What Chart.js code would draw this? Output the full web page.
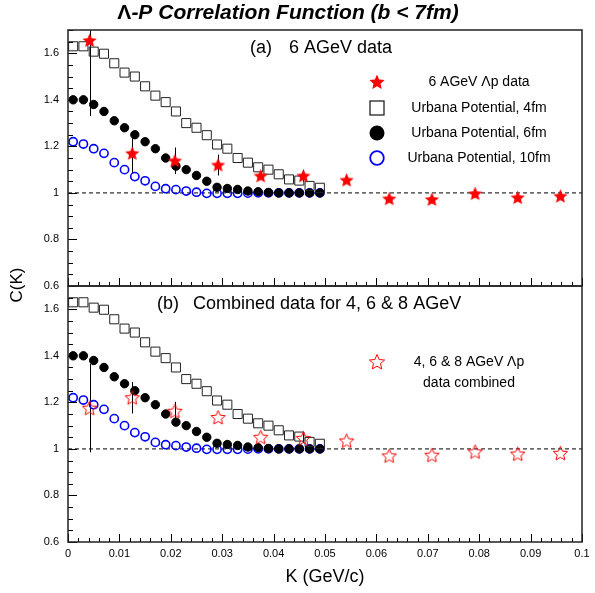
<!DOCTYPE html>
<html lang="en">
<head>
<meta charset="UTF-8">
<title>Lambda-P Correlation Function</title>
<script src="https://cdn.jsdelivr.net/npm/chart.js"></script>
<style>
    html, body { margin: 0; padding: 0; background: #fff; }
    #grafico { display: block; }
</style>
</head>
<body>
<canvas id="grafico" width="595" height="593"></canvas>
<script>
    // K values (GeV/c) of the model curves
    const kModel = [0.001, 0.003, 0.005, 0.007, 0.009, 0.011, 0.013, 0.015, 0.017, 0.019,
                    0.021, 0.023, 0.025, 0.027, 0.029, 0.031, 0.033, 0.035, 0.037, 0.039,
                    0.041, 0.043, 0.045, 0.047, 0.049];
    const urbana4fm = [1.630, 1.630, 1.607, 1.598, 1.557, 1.517, 1.500, 1.458, 1.418, 1.390,
                       1.350, 1.300, 1.280, 1.248, 1.208, 1.190, 1.150, 1.130, 1.110, 1.100,
                       1.080, 1.058, 1.053, 1.030, 1.022];
    const urbana6fm = [1.400, 1.400, 1.380, 1.350, 1.310, 1.280, 1.250, 1.220, 1.190, 1.150,
                       1.115, 1.100, 1.075, 1.050, 1.024, 1.019, 1.015, 1.008, 1.005, 1.002,
                       1.000, 1.000, 1.000, 1.000, 1.000];
    const urbana10fm = [1.220, 1.210, 1.190, 1.170, 1.130, 1.100, 1.070, 1.052, 1.028, 1.018,
                        1.014, 1.008, 1.003, 0.998, 0.998, 0.998, 0.998, 0.999, 1.000, 1.000,
                        1.000, 1.000, 1.000, 1.000, 1.000];

    // measured Lambda-p points
    const kData = [0.0042, 0.0125, 0.0208, 0.0292, 0.0375, 0.0458,
                   0.0542, 0.0625, 0.0708, 0.0792, 0.0875, 0.0958];
    const c6AGeV = [1.655, 1.170, 1.138, 1.120, 1.073, 1.073,
                    1.055, 0.975, 0.972, 0.997, 0.980, 0.986];
    const err6AGeV = [0.325, 0.086, 0.057, 0.045, 0.015, 0.025, 0, 0, 0, 0, 0, 0];
    const cCombined = [1.175, 1.220, 1.162, 1.135, 1.050, 1.045,
                       1.034, 0.970, 0.973, 0.987, 0.978, 0.981];
    const errCombined = [0.19, 0.068, 0.04, 0, 0, 0.02, 0, 0, 0, 0, 0, 0];

    const xTickValues = [0, 0.01, 0.02, 0.03, 0.04, 0.05, 0.06, 0.07, 0.08, 0.09, 0.1];
    const yTickValues = [0.6, 0.8, 1, 1.2, 1.4, 1.6];

    const FONT = 'Liberation Sans, Arial, Helvetica, sans-serif';

    function pts(xs, ys) {
        return xs.map((x, i) => ({ x: x, y: ys[i] }));
    }

    // five pointed star, filled or hollow
    function starImage(filled, size) {
        const c = document.createElement('canvas');
        c.width = c.height = size;
        const g = c.getContext('2d');
        const R = size / 2 - 1, r = R * 0.46;
        g.beginPath();
        for (let i = 0; i < 10; i++) {
            const a = -Math.PI / 2 + i * Math.PI / 5;
            const rad = i % 2 ? r : R;
            g.lineTo(size / 2 + rad * Math.cos(a), size / 2 + 0.5 + rad * Math.sin(a));
        }
        g.closePath();
        if (filled) {
            g.fillStyle = '#ff0000';
            g.fill();
        } else {
            g.strokeStyle = '#ff0000';
            g.lineWidth = 1;
            g.stroke();
        }
        return c;
    }

    const estrelaCheia = starImage(true, 17);
    const estrelaVazia = starImage(false, 17);
    const estrelaCheiaLeg = starImage(true, 18);
    const estrelaVaziaLeg = starImage(false, 18);

    function modelSets(yId) {
        return [
            {
                label: 'Urbana Potential, 4fm', data: pts(kModel, urbana4fm), yAxisID: yId, order: 1,
                pointStyle: 'rect', pointRadius: 6.4, borderWidth: 1,
                borderColor: '#222', backgroundColor: 'rgba(0,0,0,0)'
            },
            {
                label: 'Urbana Potential, 6fm', data: pts(kModel, urbana6fm), yAxisID: yId, order: 2,
                pointStyle: 'circle', pointRadius: 4.2, borderWidth: 1,
                borderColor: '#000', backgroundColor: '#000'
            },
            {
                label: 'Urbana Potential, 10fm', data: pts(kModel, urbana10fm), yAxisID: yId, order: 3,
                pointStyle: 'circle', pointRadius: 4.1, borderWidth: 1.6,
                borderColor: '#0000ff', backgroundColor: 'rgba(0,0,0,0)'
            },
            {
                label: 'C = 1', data: [{ x: 0, y: 1 }, { x: 0.1, y: 1 }], yAxisID: yId, order: 4,
                showLine: true, pointRadius: 0, borderWidth: 1, borderColor: '#000', borderDash: [4, 3]
            }
        ];
    }

    const datasets = [
        {
            label: '6 AGeV \u039Bp data', data: pts(kData, c6AGeV), yAxisID: 'yTop', order: 0,
            pointStyle: estrelaCheia, pointRadius: 8
        },
        ...modelSets('yTop'),
        {
            label: '4, 6 & 8 AGeV \u039Bp data combined', data: pts(kData, cCombined), yAxisID: 'yBot', order: 0,
            pointStyle: estrelaVazia, pointRadius: 8
        },
        ...modelSets('yBot')
    ];

    function drawErrors(chart, yId, vals, errs) {
        const ctx = chart.ctx, x = chart.scales.x, y = chart.scales[yId];
        ctx.save();
        ctx.beginPath();
        ctx.rect(x.left, y.top, x.right - x.left, y.bottom - y.top);
        ctx.clip();
        ctx.strokeStyle = '#000';
        ctx.lineWidth = 1;
        kData.forEach((k, i) => {
            if (!errs[i]) return;
            const px = Math.round(x.getPixelForValue(k)) + 0.5;
            ctx.beginPath();
            ctx.moveTo(px, y.getPixelForValue(vals[i] + errs[i]));
            ctx.lineTo(px, y.getPixelForValue(vals[i] - errs[i]));
            ctx.stroke();
        });
        ctx.restore();
    }

    function line(ctx, x1, y1, x2, y2) {
        ctx.beginPath();
        ctx.moveTo(x1, y1);
        ctx.lineTo(x2, y2);
        ctx.stroke();
    }

    // frames and inward tick marks of both panels
    function drawFrames(chart) {
        const ctx = chart.ctx, x = chart.scales.x;
        ctx.save();
        ctx.strokeStyle = '#000';
        ctx.lineWidth = 1;
        ['yTop', 'yBot'].forEach(id => {
            const y = chart.scales[id];
            for (let i = 0; i <= 50; i++) {
                const px = Math.round(x.getPixelForValue(i * 0.002)) + 0.5;
                line(ctx, px, y.bottom, px, y.bottom - (i % 5 === 0 ? 8 : 4));
            }
            for (let i = 0; i <= 22; i++) {
                const py = Math.round(y.getPixelForValue(0.6 + i * 0.05)) + 0.5;
                line(ctx, x.left, py, x.left + (i % 4 === 0 ? 9 : 5), py);
            }
        });
        ctx.strokeStyle = '#222';
        ctx.lineWidth = 1.5;
        ['yTop', 'yBot'].forEach(id => {
            const y = chart.scales[id];
            ctx.strokeRect(x.left, y.top, x.right - x.left, y.bottom - y.top);
        });
        ctx.restore();
    }

    function text(ctx, s, x, y, font, align) {
        ctx.font = font;
        ctx.textAlign = align || 'left';
        ctx.fillText(s, x, y);
    }

    function drawTexts(chart) {
        const ctx = chart.ctx;
        ctx.save();
        ctx.fillStyle = '#000';
        ctx.textBaseline = 'middle';

        // title: upright Lambda, the rest bold italic
        const fLam = 'bold 21px ' + FONT;
        const fRest = 'italic bold 21px ' + FONT;
        const rest = '-P Correlation Function (b < 7fm)';
        ctx.font = fLam;
        const wl = ctx.measureText('\u039B').width;
        ctx.font = fRest;
        const wr = ctx.measureText(rest).width;
        const x0 = 288 - (wl + wr) / 2;
        text(ctx, '\u039B', x0, 13, fLam);
        text(ctx, rest, x0 + wl, 13, fRest);

        // axis titles
        text(ctx, 'K (GeV/c)', 325, 577, '18px ' + FONT, 'center');
        ctx.save();
        ctx.translate(17, 285);
        ctx.rotate(-Math.PI / 2);
        text(ctx, 'C(K)', 0, 0, '17px ' + FONT, 'center');
        ctx.restore();

        // panel captions
        const fCap = '18px ' + FONT;
        text(ctx, '(a)', 250, 48, fCap);
        text(ctx, '6 AGeV data', 289, 48, fCap);
        text(ctx, '(b)', 157, 304, fCap);
        text(ctx, 'Combined data for 4, 6 & 8 AGeV', 193, 304, fCap);

        // legend of panel (a)
        const fLeg = '14px ' + FONT;
        const lx = 377;
        ctx.drawImage(estrelaCheiaLeg, lx - 9, 82 - 9);
        text(ctx, '6 AGeV \u039Bp data', 479, 82, fLeg, 'center');
        ctx.strokeStyle = '#222';
        ctx.lineWidth = 1.3;
        ctx.strokeRect(lx - 7, 108 - 7, 14, 14);
        text(ctx, 'Urbana Potential, 4fm', 479, 108, fLeg, 'center');
        ctx.beginPath();
        ctx.arc(lx, 133, 7.5, 0, Math.PI * 2);
        ctx.fillStyle = '#000';
        ctx.fill();
        text(ctx, 'Urbana Potential, 6fm', 479, 133, fLeg, 'center');
        ctx.beginPath();
        ctx.arc(lx, 158, 6.8, 0, Math.PI * 2);
        ctx.strokeStyle = '#0000ff';
        ctx.lineWidth = 1.8;
        ctx.stroke();
        text(ctx, 'Urbana Potential, 10fm', 479, 158, fLeg, 'center');

        // legend of panel (b)
        ctx.drawImage(estrelaVaziaLeg, lx - 9, 362 - 9);
        text(ctx, '4, 6 & 8 AGeV \u039Bp', 469, 362, fLeg, 'center');
        text(ctx, 'data combined', 469, 383, fLeg, 'center');
        ctx.restore();
    }

    const decoracao = {
        id: 'decoracao',
        beforeDatasetsDraw(chart) {
            drawErrors(chart, 'yTop', c6AGeV, err6AGeV);
            drawErrors(chart, 'yBot', cCombined, errCombined);
        },
        afterDraw(chart) {
            drawFrames(chart);
            drawTexts(chart);
        }
    };

    const tickFont = { family: FONT, size: 11 };
    const fmt = v => String(parseFloat(Number(v).toFixed(3)));

    function yScale() {
        return {
            type: 'linear', position: 'left', stack: 'panels', stackWeight: 1,
            min: 0.6, max: 1.7,
            afterBuildTicks: s => { s.ticks = yTickValues.map(v => ({ value: v })); },
            afterFit: s => { s.width = 68; },
            grid: { display: false, drawTicks: false },
            border: { display: false },
            ticks: { padding: 9, color: '#000', font: tickFont, callback: fmt }
        };
    }

    new Chart(document.getElementById('grafico').getContext('2d'), {
        type: 'scatter',
        data: { datasets: datasets },
        options: {
            responsive: false,
            animation: false,
            events: [],
            layout: { padding: { top: 30, right: 13, bottom: 0, left: 0 } },
            plugins: { legend: { display: false }, tooltip: { enabled: false }, title: { display: false } },
            scales: {
                x: {
                    type: 'linear', min: 0, max: 0.1,
                    afterBuildTicks: s => { s.ticks = xTickValues.map(v => ({ value: v })); },
                    afterFit: s => { s.height = 51; },
                    grid: { display: false, drawTicks: false },
                    border: { display: false },
                    ticks: { autoSkip: false, maxRotation: 0, padding: 5, color: '#000', font: tickFont, callback: fmt }
                },
                yBot: yScale(),
                yTop: yScale()
            }
        },
        plugins: [decoracao]
    });
</script>
</body>
</html>
